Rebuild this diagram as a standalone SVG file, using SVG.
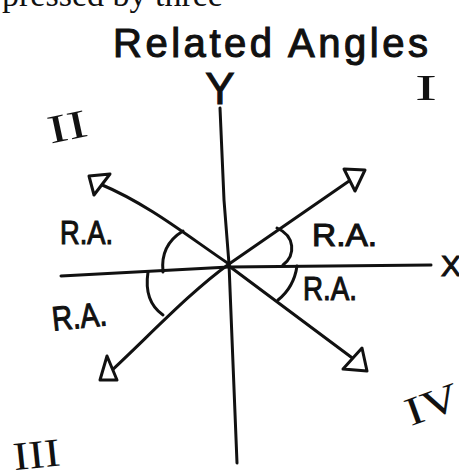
<svg xmlns="http://www.w3.org/2000/svg" width="459" height="472" viewBox="0 0 459 472">
<style>
.ln{fill:none;stroke:#111;stroke-width:3;stroke-linecap:round;stroke-linejoin:round}
.ah{fill:#fff;stroke:#111;stroke-width:3;stroke-linejoin:round}
.hw{font-family:"Liberation Sans",Arial,sans-serif;fill:#111;stroke:#111;stroke-width:1.1}
.rn{font-family:"Liberation Serif","Times New Roman",serif;fill:#111}
</style>
<rect width="459" height="472" fill="#fff"/>
<text class="rn" x="2" y="5.5" font-size="34">pressed by three</text>
<g id="title"><text class="hw" x="113" y="57" font-size="40" textLength="315" lengthAdjust="spacing">Related Angles</text></g>
<g id="connectors">
<path class="ln" d="M220,108 L224,200 L229,264 L237,463"/>
<path class="ln" d="M61,276 L229,267 L431,265"/>
<path class="ln" d="M229,264 C190,238 150,205 100,184"/>
<path class="ln" d="M229,264 L352,179"/>
<path class="ln" d="M229,264 C190,292 150,335 108,374"/>
<path class="ln" d="M229,266 L355,360"/>
<path class="ln" d="M183,231 Q160,245 163,272"/>
<path class="ln" d="M148,272 C145,292 150,306 163,315"/>
<path class="ln" d="M277,228 C295,236 296,255 283,265"/>
<path class="ln" d="M297,266 C295,280 288,292 278,300"/>
<polygon class="ah" points="89,176 110,174 94,195"/>
<polygon class="ah" points="344,169 365,170 355,191"/>
<polygon class="ah" points="100,380 107,356 117,380"/>
<polygon class="ah" points="343,369 362,348 367,371"/>
</g>
<g id="axis-labels">
<text class="hw" x="220" y="104" font-size="44" text-anchor="middle">Y</text>
<text class="hw" x="441" y="276" font-size="30">X</text>
</g>
<g id="ra-labels">
<text class="hw" x="60" y="244" font-size="34" textLength="53" lengthAdjust="spacingAndGlyphs">R.A.</text>
<text class="hw" x="312" y="246" font-size="32" textLength="65" lengthAdjust="spacingAndGlyphs">R.A.</text>
<text class="hw" x="303" y="300" font-size="34" textLength="54" lengthAdjust="spacingAndGlyphs">R.A.</text>
<text class="hw" x="52" y="328" font-size="34" textLength="55" lengthAdjust="spacingAndGlyphs" transform="rotate(-6 80 318)">R.A.</text>
</g>
<g id="quadrants">
<text class="rn" x="426" y="100" font-size="36" text-anchor="middle" textLength="22" lengthAdjust="spacingAndGlyphs">I</text>
<text class="rn" x="47" y="140" font-size="40" textLength="40" lengthAdjust="spacingAndGlyphs" transform="rotate(-12 67 125)">II</text>
<text class="rn" x="13" y="468" font-size="40" textLength="47" lengthAdjust="spacingAndGlyphs" transform="rotate(-6 36 455)">III</text>
<text class="rn" x="403" y="418" font-size="40" textLength="55" lengthAdjust="spacingAndGlyphs" transform="rotate(-20 430 400)">IV</text>
</g>
</svg>
